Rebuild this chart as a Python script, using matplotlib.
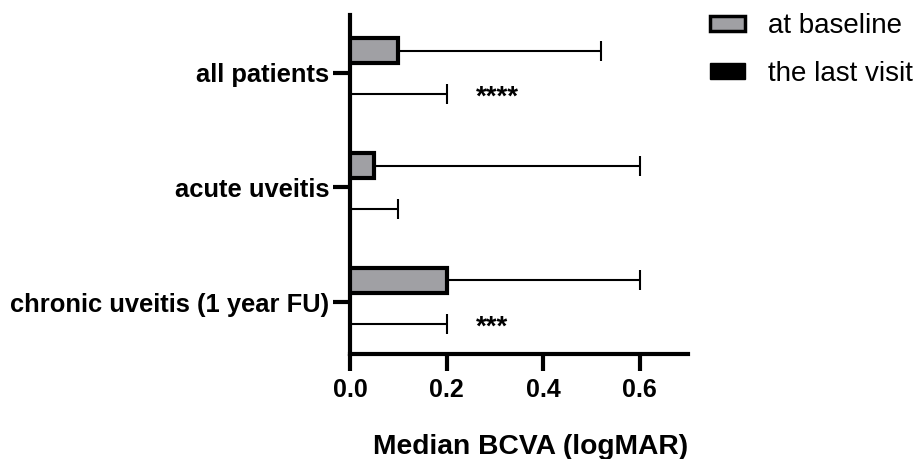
import matplotlib
matplotlib.use("Agg")
import matplotlib.pyplot as plt
from matplotlib.patches import Patch

plt.rcParams['font.family'] = ['Liberation Sans', 'DejaVu Sans']

groups = ["all patients", "acute uveitis", "chronic uveitis (1 year FU)"]
baseline = [0.1, 0.05, 0.2]
baseline_err = [0.42, 0.55, 0.4]
last_visit = [0.0, 0.0, 0.0]
last_err = [0.2, 0.1, 0.2]
stars = ["****", "", "***"]
xticks = [0.0, 0.2, 0.4, 0.6]

fig = plt.figure(figsize=(9.15, 4.59), dpi=100)
ax = fig.add_axes([0.3825, 0.2288, 0.752 - 0.3825, 0.967 - 0.2288])

pos = list(range(len(groups)))
off = 0.19
h = 0.22
yb = [p - off for p in pos]
yl = [p + off for p in pos]

ax.barh(yb, baseline, height=h, color='#a0a0a4', edgecolor='black', linewidth=3, zorder=3)
ax.errorbar(baseline, yb, xerr=[[0]*3, baseline_err], fmt='none', ecolor='black',
            elinewidth=1.5, capsize=7, capthick=1.5, zorder=2)
ax.barh(yl, last_visit, height=h, color='black', edgecolor='black', linewidth=0, zorder=3)
ax.errorbar(last_visit, yl, xerr=[[0]*3, last_err], fmt='none', ecolor='black',
            elinewidth=1.5, capsize=7, capthick=1.5, zorder=2)

for y, s in zip(yl, stars):
    if s:
        ax.text(0.26, y + 0.03, s, ha='left', va='center', fontsize=20, fontweight='bold')

ax.set_xlim(0, 0.7)
ax.set_ylim(2.45, -0.5)
ax.set_yticks(pos)
ax.set_yticklabels(groups, fontsize=18.4, fontweight='bold')
ax.set_xticks(xticks)
ax.set_xticklabels([f"{t:.1f}" for t in xticks], fontsize=18, fontweight='bold')
ax.tick_params(axis='both', width=3, length=12)
ax.tick_params(axis='y', pad=3)
ax.tick_params(axis='x', pad=5)
ax.spines['top'].set_visible(False)
ax.spines['right'].set_visible(False)
ax.spines['left'].set_linewidth(3)
ax.spines['bottom'].set_linewidth(3)
ax.set_xlabel("Median BCVA (logMAR)", fontsize=20.3, fontweight='bold')
ax.xaxis.set_label_coords(0.535, -0.235)

handles = [Patch(facecolor='#a0a0a4', edgecolor='black', linewidth=2.5, label='at baseline'),
           Patch(facecolor='black', edgecolor='black', label='the last visit')]
fig.legend(handles=handles, loc='upper left', bbox_to_anchor=(0.764, 0.995), frameon=False,
           borderaxespad=0, fontsize=20, handlelength=1.25, handleheight=0.5,
           labelspacing=0.78, handletextpad=0.83)

fig.savefig("out.png", dpi=100)
